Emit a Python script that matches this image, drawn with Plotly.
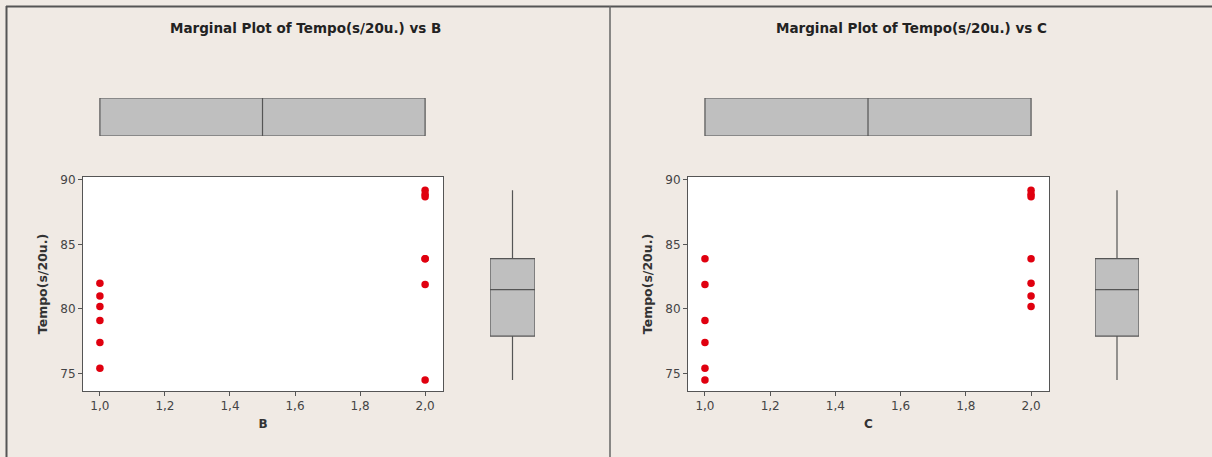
import plotly.graph_objects as go

W, H = 1212, 457

# ---------------- data ----------------
b_values = [1, 1, 1, 1, 1, 1, 2, 2, 2, 2, 2, 2, 2]
tempo_b = [82.0, 81.0, 80.2, 79.1, 77.4, 75.4, 89.2, 88.9, 88.7, 83.9, 83.9, 81.9, 74.5]

c_values = [1, 1, 1, 1, 1, 1, 2, 2, 2, 2, 2, 2, 2]
tempo_c = [83.9, 81.9, 79.1, 77.4, 75.4, 74.5, 89.2, 88.9, 88.7, 83.9, 82.0, 81.0, 80.2]

# boxplot summaries shown in the margins
tempo_q1, tempo_med, tempo_q3, tempo_lo, tempo_hi = 77.9, 81.5, 83.9, 74.5, 89.2
factor_q1, factor_med, factor_q3, factor_lo, factor_hi = 1.0, 1.5, 2.0, 1.0, 2.0

x_ticks = [1.0, 1.2, 1.4, 1.6, 1.8, 2.0]
y_ticks = [75, 80, 85, 90]
titles = ["Marginal Plot of Tempo(s/20u.) vs B", "Marginal Plot of Tempo(s/20u.) vs C"]
x_titles = ["B", "C"]
y_title = "Tempo(s/20u.)"

# ---------------- styling ----------------
BG = "#F0EAE4"
FONT = "DejaVu Sans"
LINE = "#555555"
RED = "#E0000F"
BOXFILL = "#BFBFBF"

x_range = [0.948, 2.055]
y_range = [73.64, 90.23]


def fx(px):
    return px / W


def fy(px):
    return 1 - px / H


fig = go.Figure()

panels = [
    dict(xv=b_values, yv=tempo_b, sc=(83, 443), side=(490, 535), title_x=305),
    dict(xv=c_values, yv=tempo_c, sc=(688, 1049), side=(1095, 1139), title_x=911),
]

sc_top, sc_bot = 177, 391
topbox_top, topbox_bot = 98, 136

layout_axes = {}
shapes = []
annotations = []

for i, p in enumerate(panels):
    base = i * 3
    n_sc, n_top, n_side = base + 1, base + 2, base + 3

    def ax(n):
        return "" if n == 1 else str(n)

    fig.add_trace(go.Scatter(
        x=p["xv"], y=p["yv"], mode="markers",
        marker=dict(color=RED, size=7.5, symbol="circle"),
        xaxis="x" + ax(n_sc), yaxis="y" + ax(n_sc), showlegend=False,
    ))
    fig.add_trace(go.Box(
        y=[0], q1=[factor_q1], median=[factor_med], q3=[factor_q3],
        lowerfence=[factor_lo], upperfence=[factor_hi], orientation="h",
        width=1, whiskerwidth=0, fillcolor=BOXFILL,
        line=dict(color=LINE, width=1.2),
        xaxis="x" + ax(n_top), yaxis="y" + ax(n_top), showlegend=False,
        hoverinfo="skip",
    ))
    fig.add_trace(go.Box(
        x=[0], q1=[tempo_q1], median=[tempo_med], q3=[tempo_q3],
        lowerfence=[tempo_lo], upperfence=[tempo_hi],
        width=1, whiskerwidth=0, fillcolor=BOXFILL,
        line=dict(color=LINE, width=1.2),
        xaxis="x" + ax(n_side), yaxis="y" + ax(n_side), showlegend=False,
        hoverinfo="skip",
    ))

    xdom = [fx(p["sc"][0]), fx(p["sc"][1])]
    ydom = [fy(sc_bot), fy(sc_top)]

    layout_axes["xaxis" + ax(n_sc)] = dict(
        domain=xdom, range=x_range, anchor="y" + ax(n_sc),
        tickvals=x_ticks, tickformat=".1f",
        showline=True, linecolor=LINE, linewidth=1, mirror=True,
        ticks="outside", ticklen=4, tickcolor=LINE, showgrid=False, zeroline=False,
        tickfont=dict(family=FONT, size=12, color="#444444"),
        title=dict(text="<b>" + x_titles[i] + "</b>", standoff=7,
                   font=dict(family=FONT, size=12, color="#333333")),
        automargin=False,
    )
    layout_axes["yaxis" + ax(n_sc)] = dict(
        domain=ydom, range=y_range, anchor="x" + ax(n_sc),
        tickvals=y_ticks,
        showline=True, linecolor=LINE, linewidth=1, mirror=True,
        ticks="outside", ticklen=4, tickcolor=LINE, showgrid=False, zeroline=False,
        tickfont=dict(family=FONT, size=12, color="#444444"),
        title=dict(text="<b>" + y_title + "</b>", standoff=9,
                   font=dict(family=FONT, size=12.5, color="#333333")),
        automargin=False,
    )
    layout_axes["xaxis" + ax(n_top)] = dict(
        domain=xdom, range=x_range, anchor="y" + ax(n_top), visible=False,
    )
    layout_axes["yaxis" + ax(n_top)] = dict(
        domain=[fy(topbox_bot), fy(topbox_top)], range=[-0.5, 0.5],
        anchor="x" + ax(n_top), visible=False,
    )
    layout_axes["xaxis" + ax(n_side)] = dict(
        domain=[fx(p["side"][0]), fx(p["side"][1])], range=[-0.5, 0.5],
        anchor="y" + ax(n_side), visible=False,
    )
    layout_axes["yaxis" + ax(n_side)] = dict(
        domain=ydom, range=y_range, anchor="x" + ax(n_side), visible=False,
    )

    shapes.append(dict(
        type="rect", xref="x" + ax(n_sc) + " domain", yref="y" + ax(n_sc) + " domain",
        x0=0, x1=1, y0=0, y1=1, fillcolor="white", line=dict(width=0), layer="below",
    ))
    annotations.append(dict(
        text="<b>" + titles[i] + "</b>", x=fx(p["title_x"]), y=fy(28),
        xref="paper", yref="paper", showarrow=False, xanchor="center", yanchor="middle",
        font=dict(family=FONT, size=13.5, color="#222222"),
    ))

shapes += [
    dict(type="line", xref="paper", yref="paper", x0=fx(6), x1=1, y0=fy(6.5), y1=fy(6.5),
         line=dict(color="#555555", width=2)),
    dict(type="line", xref="paper", yref="paper", x0=fx(6.5), x1=fx(6.5), y0=0, y1=fy(6),
         line=dict(color="#555555", width=2)),
    dict(type="line", xref="paper", yref="paper", x0=fx(610), x1=fx(610), y0=0, y1=fy(6),
         line=dict(color="#666666", width=1.5)),
]

fig.update_layout(
    width=W, height=H,
    margin=dict(l=0, r=0, t=0, b=0),
    paper_bgcolor=BG, plot_bgcolor=BG,
    separators=",.",
    showlegend=False,
    shapes=shapes, annotations=annotations,
    font=dict(family=FONT),
    **layout_axes,
)

fig.write_html(
    "out.html",
    config={"displayModeBar": False},
    post_script="document.body.style.margin='0';document.body.style.padding='0';"
                "document.documentElement.style.overflow='hidden';",
)
